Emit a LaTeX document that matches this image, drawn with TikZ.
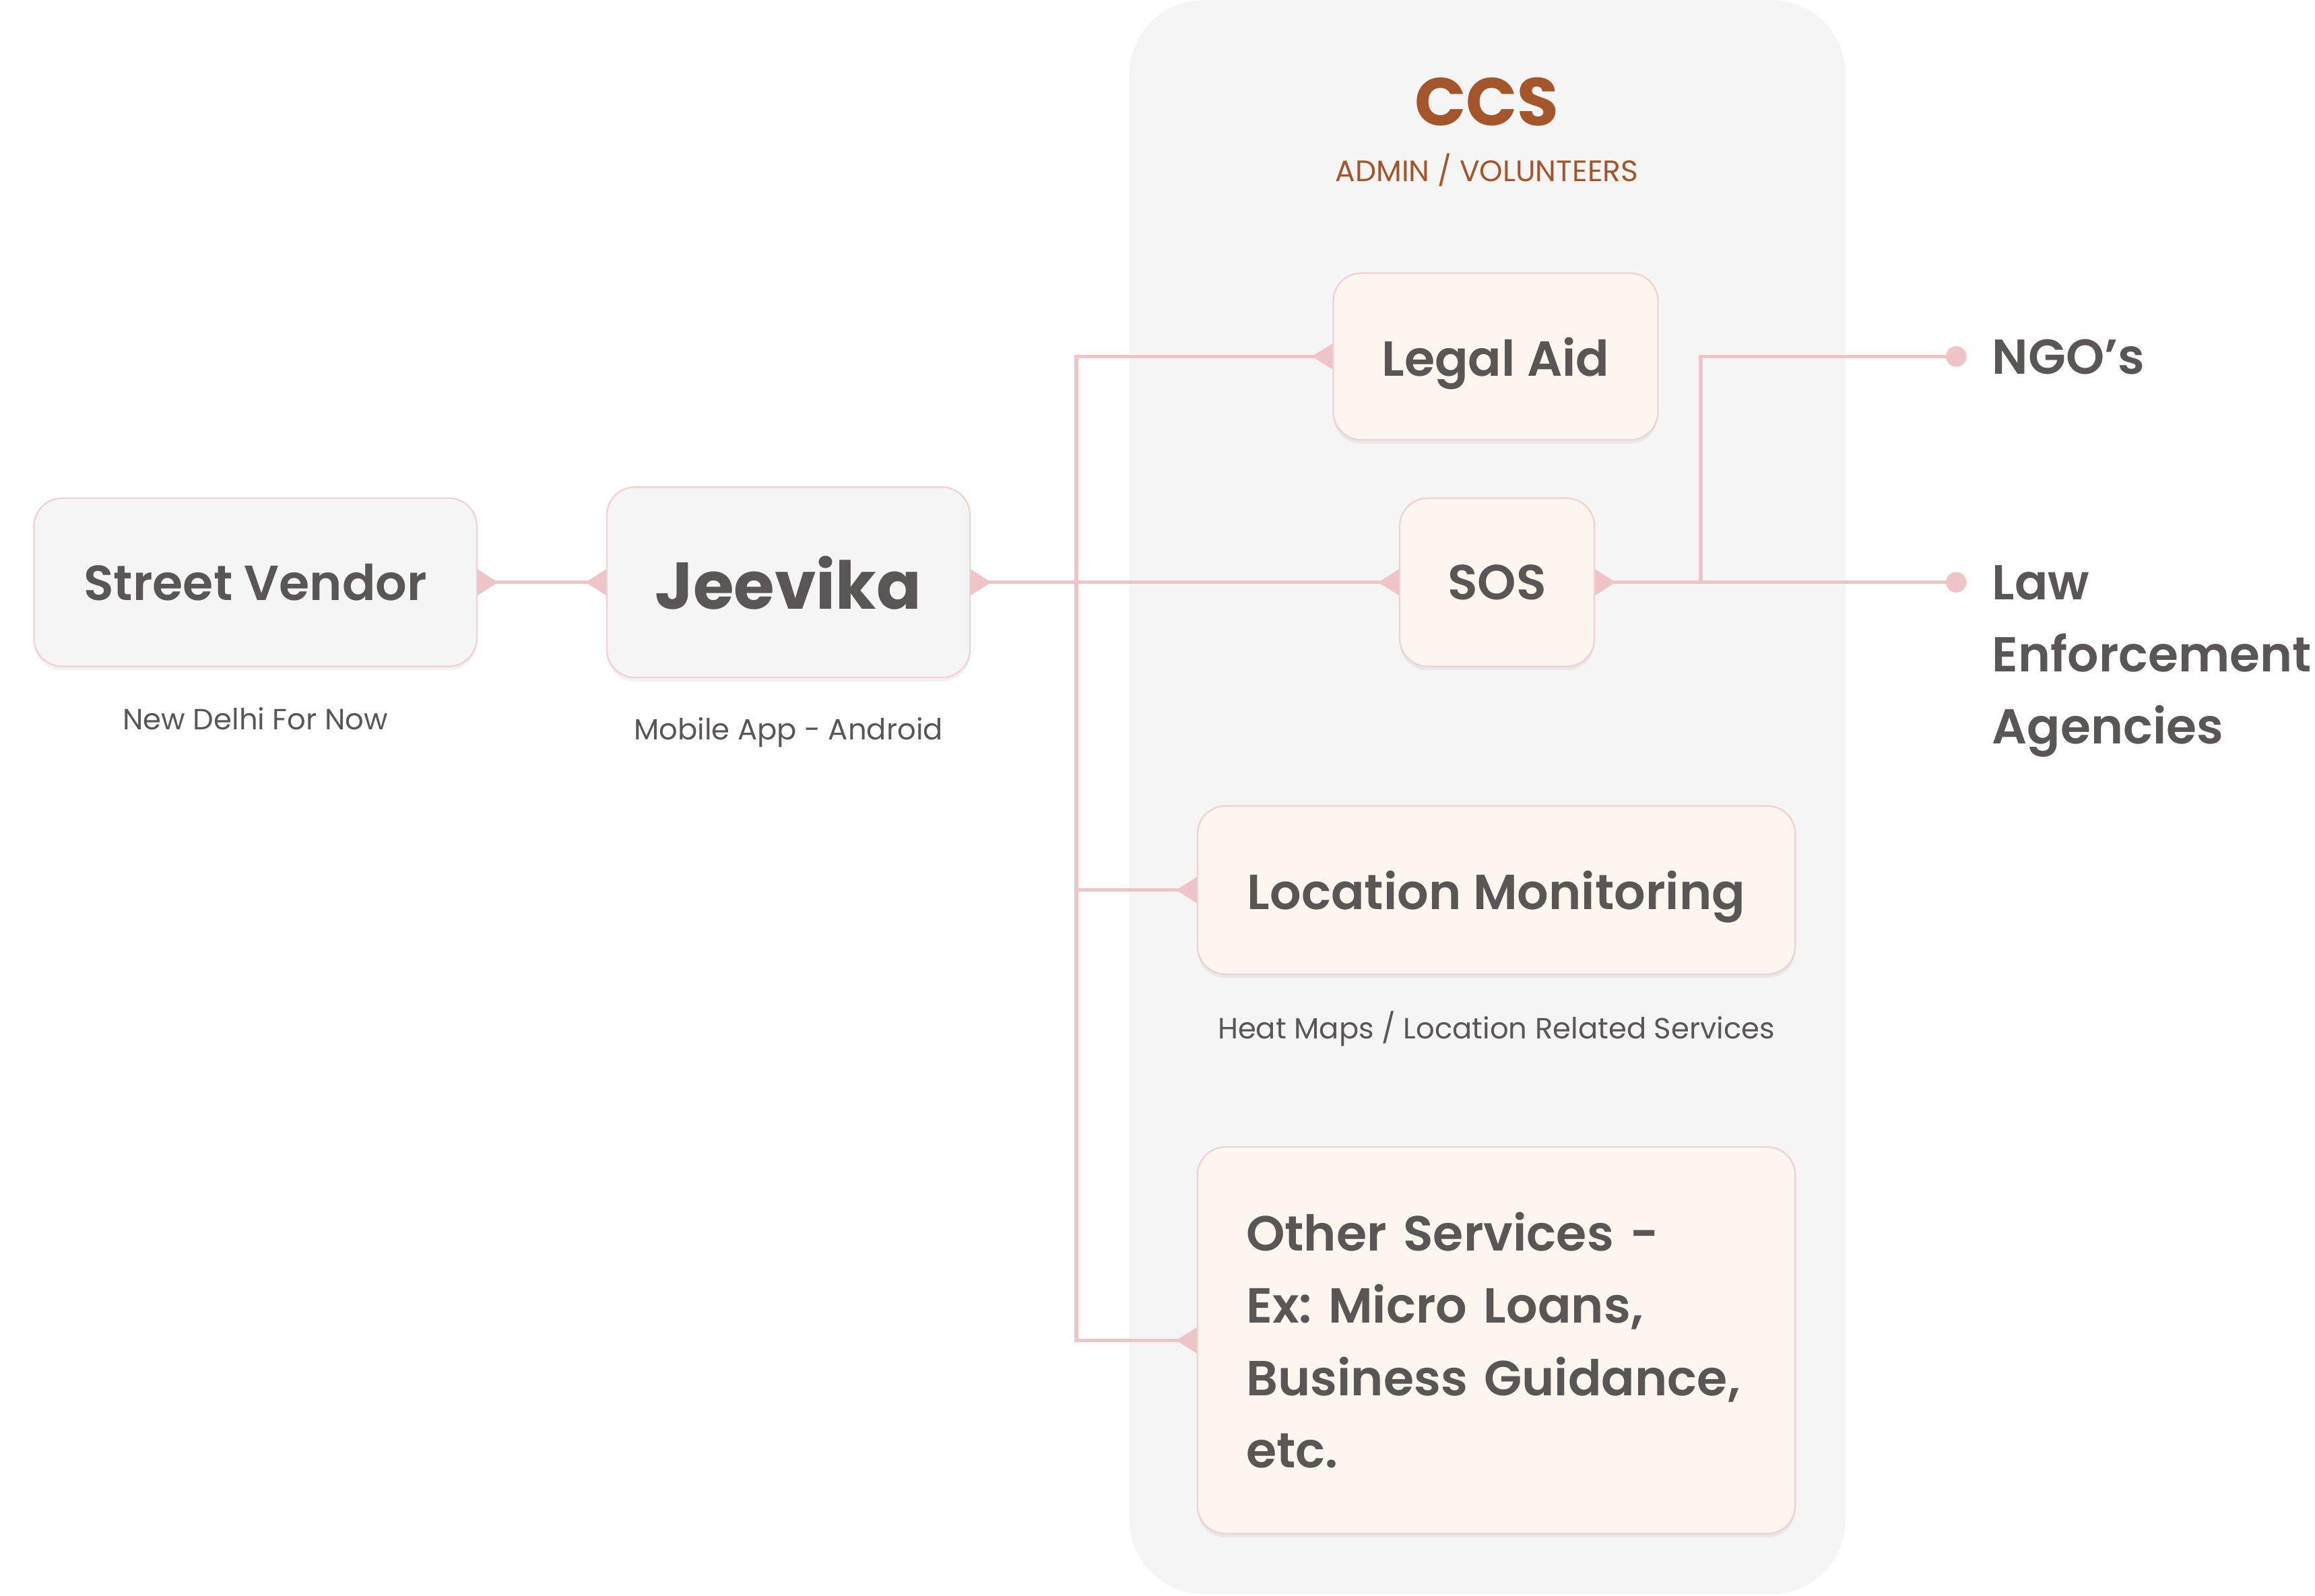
\documentclass[tikz,border=0pt]{standalone}
\usepackage{fontspec}
\setmainfont{Poppins}
\newfontfamily\pmedium{Poppins Medium}
\newfontfamily\psemibold{Poppins SemiBold}
\usetikzlibrary{positioning, arrows.meta, shadows}

\definecolor{inkgrey}{HTML}{5A5656}
\definecolor{linkpink}{HTML}{EEC4C6}
\definecolor{edgepink}{HTML}{F0D2D2}
\definecolor{panelgrey}{HTML}{F5F5F6}
\definecolor{boxgrey}{HTML}{F5F5F6}
\definecolor{boxcream}{HTML}{FDF6EE}
\definecolor{ccsbrown}{HTML}{A5552A}

\tikzset{
  linktip/.tip={Triangle[reversed, length=0.28cm, width=0.34cm]},
  enddot/.tip={Circle[length=0.28cm]},
  box/.style={draw=edgepink, line width=0.6pt, rounded corners=0.38cm, text=inkgrey,
    font=\psemibold\fontsize{19}{27.9}\selectfont,
    drop shadow={shadow xshift=0pt, shadow yshift=-1.5pt, opacity=0.05, fill=black}},
  appbox/.style={box, fill=boxgrey, text depth=0pt},
  servicebox/.style={box, fill=boxcream},
  caption/.style={text=inkgrey, font=\fontsize{11.25}{14}\selectfont},
  outside/.style={text=inkgrey, font=\psemibold\fontsize{18.9}{27.9}\selectfont, anchor=west, align=left, inner sep=0pt},
  link/.style={draw=linkpink, line width=1.4pt}
}

\begin{document}
\frenchspacing
\begin{tikzpicture}[x=0.02cm, y=-0.02cm]
    \useasboundingbox (0,0) rectangle (1568,1081);

    % CCS panel
    \node (ccspanel) [fill=panelgrey, rounded corners=1cm, minimum width=9.7cm, minimum height=21.6cm, inner sep=0pt] at (1007.5,540) {};
    \node (ccs) [text=ccsbrown, font=\bfseries\fontsize{26}{30}\selectfont] at (1007,69) {CCS};
    \node (roles) [text=ccsbrown, font=\fontsize{11.4}{13}\selectfont] at (1007,115) {ADMIN / VOLUNTEERS};

    % user side
    \node (vendor) [appbox, minimum width=6cm, minimum height=2.28cm] at (173,394.5) {Street Vendor};
    \node (vendorcap) [caption] at (173,487) {New Delhi For Now};
    \node (jeevika) [appbox, minimum width=4.92cm, minimum height=2.58cm, font=\bfseries\fontsize{25.5}{30}\selectfont] at (534,394.5) {Jeevika};
    \node (appcap) [caption] at (534,496) {Mobile App - Android};

    % services
    \node (legal) [servicebox, text depth=0pt, minimum width=4.4cm, minimum height=2.26cm] at (1013,241.5) {Legal Aid};
    \node (sos) [servicebox, text depth=0pt, minimum width=2.64cm, minimum height=2.28cm] at (1014,394.5) {SOS};
    \node (locmon) [servicebox, text depth=0pt, minimum width=8.1cm, minimum height=2.28cm] at (1013.5,603) {Location Monitoring};
    \node (loccap) [caption] at (1013.5,697) {Heat Maps / Location Related Services};
    \node (other) [servicebox, minimum width=8.1cm, minimum height=5.24cm, align=left, text width=6.78cm, inner xsep=0.66cm] at (1013.5,908) {Other Services -\\Ex: Micro Loans,\\Business Guidance,\\etc.};

    % outside parties
    \node (ngo) [outside, text depth=0pt] at (1349,241.5) {NGO’s};
    \node (law) [outside] at (1349,448) {Law\\Enforcement\\Agencies};

    \coordinate (split) at (729,394.5);
    \coordinate (fork) at (1152,394.5);
    \coordinate (ngodot) at (1332,241.5);
    \coordinate (lawdot) at (1332,394.5);

    \draw[link, {linktip}-{linktip}] (vendor.east) -- (jeevika.west);
    \draw[link, {linktip}-{linktip}] (jeevika.east) -- (sos.west);
    \draw[link, -{linktip}] (split) |- (legal.west);
    \draw[link, -{linktip}] (split) |- (locmon.west);
    \draw[link, -{linktip}] (split) |- (other.west);
    \draw[link, {linktip}-{enddot}] (sos.east) -- (lawdot);
    \draw[link, -{enddot}] (fork) |- (ngodot);
\end{tikzpicture}
\end{document}
